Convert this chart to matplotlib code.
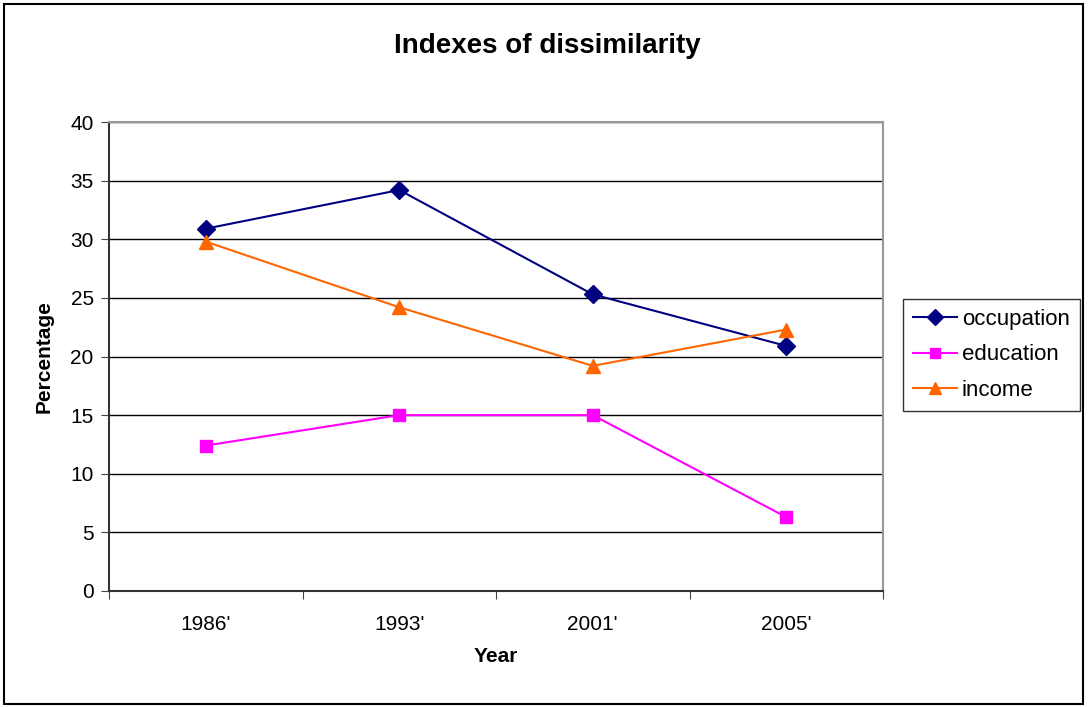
"""
Indexes of dissimilarity, Excel-style line chart
"""

import numpy as np

import matplotlib

matplotlib.use("Agg")
import matplotlib.pyplot as plt  # noqa:E402
from matplotlib.patches import Rectangle  # noqa:E402

years = ["1986'", "1993'", "2001'", "2005'"]
occupation = [30.9, 34.2, 25.3, 20.9]
education = [12.4, 15.0, 15.0, 6.3]
income = [29.8, 24.2, 19.2, 22.3]


def main():
    plt.rcParams["font.family"] = ["Liberation Sans", "DejaVu Sans"]

    fig = plt.figure(figsize=(10.89, 7.07), dpi=100)
    ax = fig.add_axes([109 / 1089, 1 - 591 / 707, 774 / 1089, 469 / 707])

    x = np.arange(len(years))
    ax.plot(x, occupation, color="#000080", marker="D", markersize=9,
            linewidth=1.5, label="occupation")
    ax.plot(x, education, color="#FF00FF", marker="s", markersize=8,
            linewidth=1.5, label="education")
    ax.plot(x, income, color="#FF6600", marker="^", markersize=10,
            linewidth=1.5, label="income")

    ax.set_xlim(-0.5, len(years) - 0.5)
    ax.set_ylim(0, 40)
    ax.set_yticks(np.arange(0, 41, 5))
    ax.yaxis.grid(True, color="black", linewidth=1)
    ax.set_axisbelow(True)

    # category labels between the tick marks
    ax.set_xticks(np.arange(-0.5, len(years), 1))
    ax.set_xticklabels([])
    ax.set_xticks(x, minor=True)
    ax.set_xticklabels(years, minor=True)
    ax.tick_params(axis="x", which="minor", length=0, pad=17, labelsize=15)
    ax.tick_params(axis="x", which="major", length=6, direction="out",
                   color="#444444")
    ax.tick_params(axis="y", length=6, direction="out", labelsize=15,
                   pad=5, color="#444444")

    for side in ["top", "right"]:
        ax.spines[side].set_color("#999999")
        ax.spines[side].set_linewidth(1.5)
    for side in ["left", "bottom"]:
        ax.spines[side].set_color("#333333")
        ax.spines[side].set_linewidth(1.5)

    ax.set_xlabel("Year", fontsize=15, fontweight="bold", labelpad=10)
    ax.set_ylabel("Percentage", fontsize=15, fontweight="bold", labelpad=12)
    fig.text(547 / 1089, 1 - 46 / 707, "Indexes of dissimilarity",
             fontsize=20, fontweight="bold", ha="center", va="center")

    leg = ax.legend(loc="upper left", bbox_to_anchor=(903 / 1089, 1 - 299 / 707),
                    bbox_transform=fig.transFigure,
                    fontsize=16, frameon=True, fancybox=False, markerscale=0.85,
                    edgecolor="black", borderaxespad=0, handlelength=2.0,
                    labelspacing=0.65, handletextpad=0.2, borderpad=0.45)
    leg.get_frame().set_linewidth(1)

    # outer chart border
    fig.patches.append(Rectangle((4 / 1089, 3 / 707), 1079 / 1089, 700 / 707,
                                 transform=fig.transFigure, fill=False,
                                 edgecolor="black", linewidth=1.5))

    fig.savefig("out.png", dpi=100)
    plt.close(fig)


if __name__ == "__main__":
    main()
